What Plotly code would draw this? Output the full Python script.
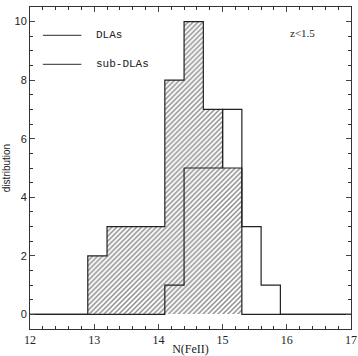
import plotly.graph_objects as go

bin_lefts = [12.9, 13.2, 13.5, 13.8, 14.1, 14.4, 14.7, 15.0, 15.3, 15.6]
bin_width = 0.3
dla_counts = [2, 3, 3, 3, 8, 10, 7, 5, 0, 0]
subdla_counts = [0, 0, 0, 0, 1, 5, 5, 7, 3, 1]
x_min, x_max = 12, 17
x_ticks = [12, 13, 14, 15, 16, 17]
y_ticks = [0, 2, 4, 6, 8, 10]
legend_labels = ["DLAs", "sub-DLAs"]
legend_y = [9.53, 8.54]
label_text = "z<1.5"

def step_xy(counts):
    xs = [x_min] + bin_lefts + [bin_lefts[-1] + bin_width, x_max]
    ys = [0] + counts + [0, 0]
    return xs, ys

fig = go.Figure()
centers = [b + bin_width / 2 for b in bin_lefts]
fig.add_trace(go.Bar(
    x=centers, y=dla_counts, width=bin_width,
    marker=dict(color="white", line=dict(width=0),
                pattern=dict(shape="/", fgcolor="#111111", bgcolor="white",
                             size=3.5, solidity=0.4)),
    showlegend=False, hoverinfo="skip"))

for counts in (dla_counts, subdla_counts):
    xs, ys = step_xy(counts)
    fig.add_trace(go.Scatter(x=xs, y=ys, mode="lines", line_shape="hv",
                             line=dict(color="#222222", width=1.2),
                             showlegend=False, hoverinfo="skip"))

for lab, ly in zip(legend_labels, legend_y):
    fig.add_trace(go.Scatter(x=[12.2, 12.8], y=[ly, ly], mode="lines",
                             line=dict(color="#555555", width=1.2),
                             showlegend=False, hoverinfo="skip"))
    fig.add_annotation(x=12.99, y=ly, text=lab, showarrow=False, xanchor="left",
                       yanchor="middle",
                       font=dict(family="Liberation Mono", size=11, color="#222"))

fig.add_annotation(x=16.02, y=9.6, text=label_text, showarrow=False, xanchor="left",
                   yanchor="middle", font=dict(family="Liberation Serif", size=11, color="#222"))

fig.update_layout(
    width=358, height=356, margin=dict(l=30, r=7, t=7, b=27),
    plot_bgcolor="white", paper_bgcolor="white", bargap=0,
    xaxis=dict(range=[x_min, x_max], tickvals=x_ticks, ticks="inside", ticklen=5,
               mirror="allticks", showline=True, linecolor="#333", linewidth=1,
               showgrid=False, zeroline=False, automargin=False,
               tickfont=dict(family="Liberation Serif", size=12, color="#222"),
               minor=dict(ticks="inside", dtick=0.2, ticklen=3, tickcolor="#333", showgrid=False),
               title=dict(text="N(FeII)", font=dict(family="Liberation Serif", size=12, color="#222"),
                          standoff=2)),
    yaxis=dict(range=[-0.5, 10.5], tickvals=y_ticks, ticks="inside", ticklen=5,
               mirror="allticks", showline=True, linecolor="#333", linewidth=1,
               showgrid=False, zeroline=False, automargin=False,
               tickfont=dict(family="Liberation Sans", size=11, color="#222"),
               minor=dict(ticks="inside", dtick=0.5, ticklen=3, tickcolor="#333", showgrid=False),
               title=dict(text="distribution", font=dict(family="Liberation Sans", size=10, color="#222"),
                          standoff=2)),
)
fig.write_html("out.html")
